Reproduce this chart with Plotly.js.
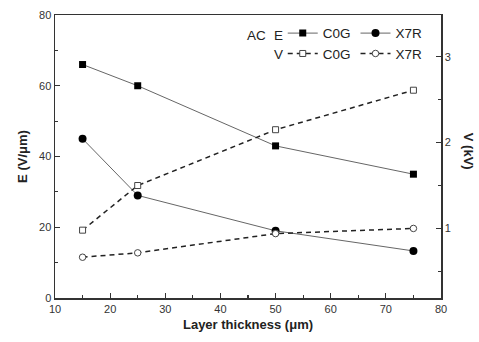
<!DOCTYPE html>
<html>
<head>
<meta charset="utf-8">
<script src="https://cdn.plot.ly/plotly-3.0.1.min.js"></script>
<style>html,body{margin:0;padding:0;background:#fff;}#chart{width:479px;height:342px;}</style>
</head>
<body>
<div id="chart"></div>
<script>
const thickness = [15, 25, 50, 75];
const E_C0G = [66, 60, 43, 35];
const E_X7R = [45, 29, 19, 13.3];
const V_C0G = [0.98, 1.5, 2.15, 2.61];
const V_X7R = [0.665, 0.716, 0.94, 1.0];
const seriesNames = ['C0G', 'X7R', 'C0G', 'X7R'];

const F = 'Liberation Sans, Arial, sans-serif';
const traces = [
  {x: thickness, y: E_C0G, name: seriesNames[0], type: 'scatter', mode: 'lines+markers',
   line: {color: '#666', width: 1}, marker: {symbol: 'square', size: 7, color: '#000'}, legend: 'legend'},
  {x: thickness, y: E_X7R, name: seriesNames[1], type: 'scatter', mode: 'lines+markers',
   line: {color: '#666', width: 1}, marker: {symbol: 'circle', size: 8, color: '#000'}, legend: 'legend'},
  {x: thickness, y: V_C0G, name: seriesNames[2], type: 'scatter', mode: 'lines+markers', yaxis: 'y2',
   line: {color: '#222', width: 1.5, dash: '5px,4px'}, marker: {symbol: 'square', size: 6, color: '#fff', line: {color: '#444', width: 1}}, legend: 'legend2'},
  {x: thickness, y: V_X7R, name: seriesNames[3], type: 'scatter', mode: 'lines+markers', yaxis: 'y2',
   line: {color: '#222', width: 1.5, dash: '5px,4px'}, marker: {symbol: 'circle', size: 6.5, color: '#fff', line: {color: '#444', width: 1}}, legend: 'legend2'}
];

const axBase = {
  showgrid: false, zeroline: false, showline: true, linecolor: '#333', linewidth: 1.5,
  ticks: 'inside', ticklen: 5, tickwidth: 1.2, tickcolor: '#333',
  tickfont: {family: F, size: 11, color: '#333'}
};

const LF = {family: F, size: 13.5, color: '#222'};
const layout = {
  width: 479, height: 342,
  margin: {l: 55, r: 38, t: 15, b: 44},
  paper_bgcolor: '#fff', plot_bgcolor: '#fff',
  font: {family: F, color: '#222'},
  xaxis: Object.assign({}, axBase, {
    range: [10, 80], dtick: 10, tick0: 10, mirror: true,
    minor: {dtick: 5, ticks: 'inside', ticklen: 3, tickcolor: '#333'},
    title: {text: 'Layer thickness (μm)', font: {family: F, size: 13, color: '#222', weight: 'bold'}, standoff: 6}
  }),
  yaxis: Object.assign({}, axBase, {
    range: [0, 80], dtick: 20, tick0: 0,
    minor: {dtick: 10, ticks: 'inside', ticklen: 3, tickcolor: '#333'},
    title: {text: 'E (V/μm)', font: {family: F, size: 13, color: '#222', weight: 'bold'}, standoff: 8}
  }),
  yaxis2: Object.assign({}, axBase, {
    overlaying: 'y', side: 'right', range: [0.19, 3.486], dtick: 1, tick0: 0,
    minor: {dtick: 0.5, ticks: 'inside', ticklen: 3, tickcolor: '#333'}
  }),
  showlegend: true,
  legend: {orientation: 'h', x: 0.59, y: 0.99, xanchor: 'left', yanchor: 'top',
    bgcolor: 'rgba(0,0,0,0)', font: LF, itemwidth: 30, tracegroupgap: 0},
  legend2: {orientation: 'h', x: 0.59, y: 0.918, xanchor: 'left', yanchor: 'top',
    bgcolor: 'rgba(0,0,0,0)', font: LF, itemwidth: 30},
  annotations: [
    {xref: 'paper', yref: 'paper', x: (268 - 55) / 386, y: 0.928, xanchor: 'right', yanchor: 'middle', showarrow: false,
     text: 'AC', font: LF},
    {xref: 'paper', yref: 'paper', x: (285 - 55) / 386, y: 0.928, xanchor: 'right', yanchor: 'middle', showarrow: false,
     text: 'E', font: LF},
    {xref: 'paper', yref: 'paper', x: (285 - 55) / 386, y: 0.86, xanchor: 'right', yanchor: 'middle', showarrow: false,
     text: 'V', font: LF},
    {xref: 'paper', yref: 'paper', x: 1.07, y: 0.52, xanchor: 'center', yanchor: 'middle', showarrow: false,
     textangle: 90, text: '<b>V (kV)</b>', font: {family: F, size: 13, color: '#222'}}
  ]
};

Plotly.newPlot('chart', traces, layout, {staticPlot: true});
</script>
</body>
</html>
